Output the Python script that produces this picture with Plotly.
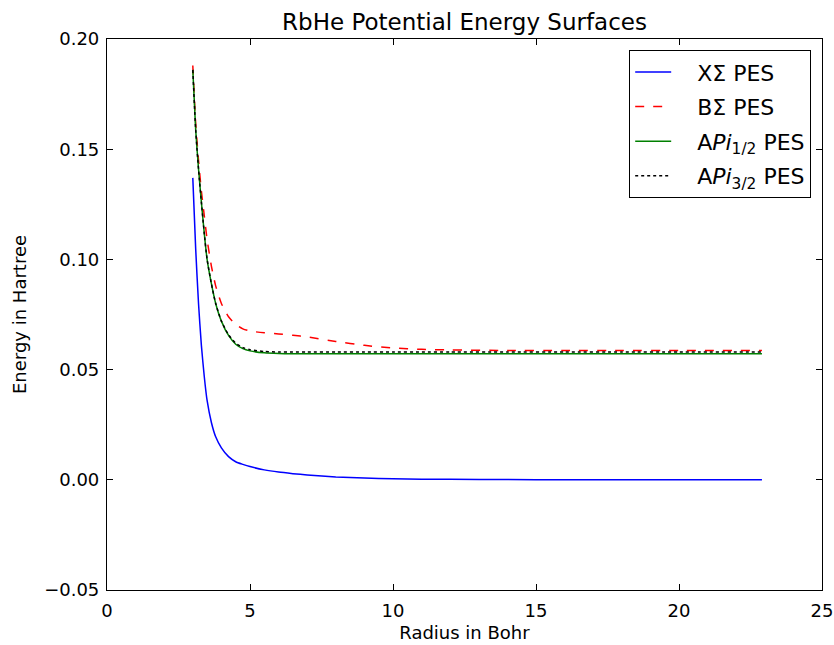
import plotly.graph_objects as go

# Radius (Bohr)
radius = [3.0, 3.1, 3.2, 3.3, 3.4, 3.5, 3.65, 3.8, 4.0, 4.25, 4.5, 4.75, 5.0, 5.5,
          6.0, 6.5, 7.0, 8.0, 9.0, 10.0, 11.0, 12.0, 14.0, 16.0, 18.0, 20.0, 22.9]

# Energies (Hartree)
x_sigma = [0.137, 0.105, 0.080, 0.061, 0.047, 0.036, 0.026, 0.0195, 0.0145, 0.0105, 0.0082,
           0.0070, 0.0060, 0.0045, 0.0035, 0.0028, 0.0022, 0.0013, 0.0008, 0.0005, 0.0003,
           0.0002, 0.0001, 0.0, 0.0, 0.0, 0.0]
b_sigma = [0.188, 0.162, 0.145, 0.131, 0.120, 0.109, 0.097, 0.088, 0.080, 0.074, 0.0705,
           0.0685, 0.0675, 0.0667, 0.0662, 0.0656, 0.0648, 0.0628, 0.0610, 0.0598, 0.0592,
           0.0589, 0.0587, 0.0587, 0.0587, 0.0587, 0.0587]
a_pi_12 = [0.186, 0.159, 0.141, 0.126, 0.112, 0.100, 0.089, 0.080, 0.072, 0.0655, 0.0615,
           0.0595, 0.0585, 0.0576, 0.0573, 0.0572, 0.0572, 0.0572, 0.0572, 0.0572, 0.0572,
           0.0572, 0.0572, 0.0572, 0.0572, 0.0572, 0.0572]
a_pi_32 = [0.186, 0.159, 0.141, 0.126, 0.112, 0.100, 0.089, 0.080, 0.072, 0.0658, 0.0620,
           0.0600, 0.0590, 0.0582, 0.0580, 0.0580, 0.0580, 0.0580, 0.0580, 0.0580, 0.0580,
           0.0580, 0.0580, 0.0580, 0.0580, 0.0580, 0.0580]

names = ["XΣ PES", "BΣ PES", "A<i>Pi</i><sub>1/2</sub> PES", "A<i>Pi</i><sub>3/2</sub> PES"]

x_ticks = [0, 5, 10, 15, 20, 25]
y_ticks = [-0.05, 0.0, 0.05, 0.10, 0.15, 0.20]

FONT = "DejaVu Sans"
PAD = "\u00a0\u00a0\u00a0"

fig = go.Figure()
series = [
    (x_sigma, "#0000ff", "solid"),
    (b_sigma, "#ff0000", "dash"),
    (a_pi_12, "#008000", "solid"),
    (a_pi_32, "#000000", "dot"),
]
for i, (vals, col, dash) in enumerate(series):
    fig.add_trace(go.Scatter(
        x=radius, y=vals, mode="lines", name=PAD + names[i], legendgroup=str(i),
        line=dict(color=col, width=1.5, dash=dash, shape="spline", smoothing=0.6),
    ))

axis_common = dict(
    showgrid=False, zeroline=False, showline=True, linecolor="black", linewidth=1.2,
    mirror="ticks", ticks="inside", ticklen=6, tickcolor="black", tickwidth=1,
    tickfont=dict(family=FONT, size=18, color="black"), automargin=False,
)

fig.update_layout(
    width=834, height=645,
    margin=dict(l=107, r=12, t=39, b=55),
    paper_bgcolor="white", plot_bgcolor="white",
    font=dict(family=FONT, color="black"),
    title=dict(text="RbHe Potential Energy Surfaces", x=0.5, xref="paper",
               y=1 - 22 / 645, yref="container", yanchor="middle",
               font=dict(family=FONT, size=23, color="black")),
    xaxis=dict(range=[0, 25], tickvals=x_ticks, ticktext=[str(v) for v in x_ticks],
               ticklabelstandoff=4,
               title=dict(text="Radius in Bohr", font=dict(family=FONT, size=18), standoff=6),
               **axis_common),
    yaxis=dict(range=[-0.05, 0.20], tickvals=y_ticks,
               ticktext=[("−" if v < 0 else "") + f"{abs(v):.2f}" for v in y_ticks],
               ticklabelstandoff=3,
               title=dict(text="Energy in Hartree", font=dict(family=FONT, size=18), standoff=12),
               **axis_common),
    legend=dict(x=0.9846, y=0.98, xanchor="right", yanchor="top",
                bordercolor="black", borderwidth=1.2, bgcolor="white",
                font=dict(family=FONT, size=22, color="black"),
                tracegroupgap=3, itemwidth=36),
    showlegend=True,
)

fig.write_html("out.html")
